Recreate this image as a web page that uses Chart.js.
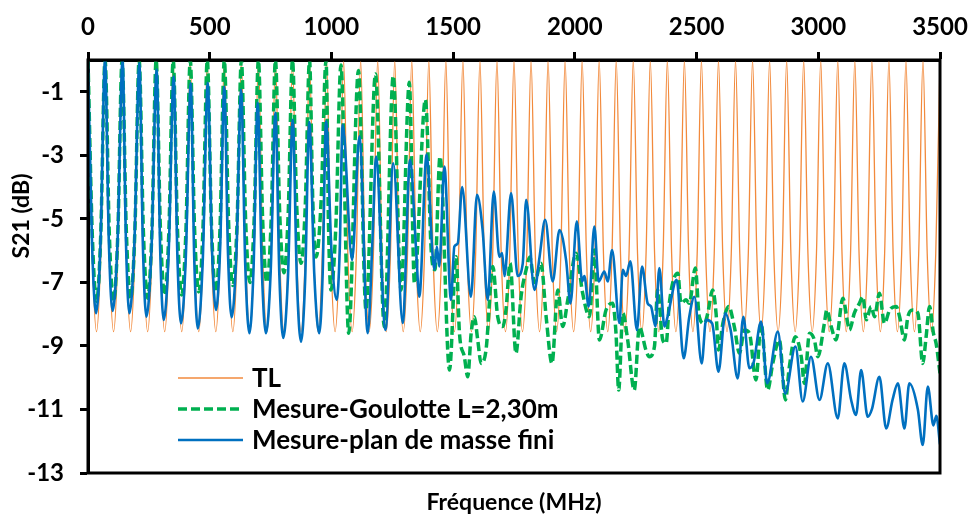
<!DOCTYPE html>
<html lang="fr">
<head>
<meta charset="UTF-8">
<title>S21 - Goulotte / plan de masse</title>
<script src="https://cdn.jsdelivr.net/npm/chart.js"></script>
<style>
    html, body { margin: 0; padding: 0; background: #fff; }
    #wrap { width: 971px; height: 517px; }
</style>
</head>
<body>
<div id="wrap"><canvas id="s21Chart" width="971" height="517"></canvas></div>
<script>
// ---- data (MHz / dB) ----
var tlFreq = [
    0, 17.5, 35, 52.5, 70, 87.5, 105, 122.5,
    140, 157.5, 175, 192.5, 210, 227.5, 245, 262.5,
    280, 297.5, 315, 332.5, 350, 367.5, 385, 402.5,
    420, 437.5, 455, 472.5, 490, 507.5, 525, 542.5,
    560, 577.5, 595, 612.5, 630, 647.5, 665, 682.5,
    700, 717.5, 735, 752.5, 770, 787.5, 805, 822.5,
    840, 857.5, 875, 892.5, 910, 927.5, 945, 962.5,
    980, 997.5, 1015, 1032.5, 1050, 1067.5, 1085, 1102.5,
    1120, 1137.5, 1155, 1172.5, 1190, 1207.5, 1225, 1242.5,
    1260, 1277.5, 1295, 1312.5, 1330, 1347.5, 1365, 1382.5,
    1400, 1417.5, 1435, 1452.5, 1470, 1487.5, 1505, 1522.5,
    1540, 1557.5, 1575, 1592.5, 1610, 1627.5, 1645, 1662.5,
    1680, 1697.5, 1715, 1732.5, 1750, 1767.5, 1785, 1802.5,
    1820, 1837.5, 1855, 1872.5, 1890, 1907.5, 1925, 1942.5,
    1960, 1977.5, 1995, 2012.5, 2030, 2047.5, 2065, 2082.5,
    2100, 2117.5, 2135, 2152.5, 2170, 2187.5, 2205, 2222.5,
    2240, 2257.5, 2275, 2292.5, 2310, 2327.5, 2345, 2362.5,
    2380, 2397.5, 2415, 2432.5, 2450, 2467.5, 2485, 2502.5,
    2520, 2537.5, 2555, 2572.5, 2590, 2607.5, 2625, 2642.5,
    2660, 2677.5, 2695, 2712.5, 2730, 2747.5, 2765, 2782.5,
    2800, 2817.5, 2835, 2852.5, 2870, 2887.5, 2905, 2922.5,
    2940, 2957.5, 2975, 2992.5, 3010, 3027.5, 3045, 3062.5,
    3080, 3097.5, 3115, 3132.5, 3150, 3167.5, 3185, 3202.5,
    3220, 3237.5, 3255, 3272.5, 3290, 3307.5, 3325, 3342.5,
    3360, 3377.5, 3395, 3412.5, 3430, 3447.5, 3465, 3482.5,
    3500
];
var tlDb = [
    0, -6.1, -8.55, -6.1, 0, -6.1, -8.55, -6.1,
    0, -6.1, -8.55, -6.1, 0, -6.1, -8.55, -6.1,
    0, -6.1, -8.55, -6.1, 0, -6.1, -8.55, -6.1,
    0, -6.1, -8.55, -6.1, 0, -6.1, -8.55, -6.1,
    0, -6.1, -8.55, -6.1, 0, -6.1, -8.55, -6.1,
    0, -6.1, -8.55, -6.1, 0, -6.1, -8.55, -6.1,
    0, -6.1, -8.55, -6.1, 0, -6.1, -8.55, -6.1,
    0, -6.1, -8.55, -6.1, 0, -6.1, -8.55, -6.1,
    0, -6.1, -8.55, -6.1, 0, -6.1, -8.55, -6.1,
    0, -6.1, -8.55, -6.1, 0, -6.1, -8.55, -6.1,
    0, -6.1, -8.55, -6.1, 0, -6.1, -8.55, -6.1,
    0, -6.1, -8.55, -6.1, 0, -6.1, -8.55, -6.1,
    0, -6.1, -8.55, -6.1, 0, -6.1, -8.55, -6.1,
    0, -6.1, -8.55, -6.1, 0, -6.1, -8.55, -6.1,
    0, -6.1, -8.55, -6.1, 0, -6.1, -8.55, -6.1,
    0, -6.1, -8.55, -6.1, 0, -6.1, -8.55, -6.1,
    0, -6.1, -8.55, -6.1, 0, -6.1, -8.55, -6.1,
    0, -6.1, -8.55, -6.1, 0, -6.1, -8.55, -6.1,
    0, -6.1, -8.55, -6.1, 0, -6.1, -8.55, -6.1,
    0, -6.1, -8.55, -6.1, 0, -6.1, -8.55, -6.1,
    0, -6.1, -8.55, -6.1, 0, -6.1, -8.55, -6.1,
    0, -6.1, -8.55, -6.1, 0, -6.1, -8.55, -6.1,
    0, -6.1, -8.55, -6.1, 0, -6.1, -8.55, -6.1,
    0, -6.1, -8.55, -6.1, 0, -6.1, -8.55, -6.1,
    0, -6.1, -8.55, -6.1, 0, -6.1, -8.55, -6.1,
    0
];

var goulotteFreq = [
    0, 17.5, 35, 52.5, 70, 87.5, 105, 122.5, 140, 157.5,
    175, 192.5, 210, 227.5, 245, 262.5, 280, 297.5, 315, 332.5,
    350, 367.5, 385, 402.5, 420, 437.5, 455, 472.5, 490, 507.5,
    525, 542.5, 560, 577.5, 595, 612.5, 630, 647.5, 665, 682.5,
    700, 717.5, 735, 752.5, 770, 787.5, 805, 822.5, 840, 857.5,
    875, 892.5, 910, 923.5, 937, 957.5, 978, 988, 998, 1018,
    1039, 1071, 1111, 1142, 1181, 1217, 1254, 1286, 1320, 1341,
    1386, 1410, 1425, 1446, 1485, 1512, 1526, 1546, 1560, 1574,
    1587, 1601, 1615, 1635, 1663, 1683, 1704, 1717, 1734, 1758,
    1779, 1800, 1815, 1834, 1861, 1882, 1906, 1930, 1950, 1971,
    2005, 2032, 2060, 2080, 2101, 2128, 2155, 2169, 2180, 2197,
    2217, 2244, 2265, 2292, 2306, 2327, 2340, 2361, 2375, 2388,
    2423, 2436, 2457, 2470, 2495, 2511, 2532, 2546, 2566, 2580,
    2590, 2608, 2632, 2655, 2676, 2697, 2717, 2744, 2765, 2792,
    2813, 2840, 2865, 2881, 2906, 2930, 2943, 2964, 2984, 2998,
    3025, 3035, 3053, 3073, 3101, 3121, 3128, 3148, 3169, 3183,
    3197, 3217, 3231, 3251, 3272, 3293, 3320, 3334, 3354, 3368,
    3388, 3409, 3429, 3443, 3457, 3473, 3484, 3500
];
var goulotteDb = [
    0, -5.47, -7.6, -5.47, 0, -5.47, -7.6, -5.47, 0, -5.4,
    -7.5, -5.4, 0, -5.4, -7.5, -5.4, 0, -5.33, -7.4, -5.33,
    0, -5.33, -7.4, -5.33, 0, -5.26, -7.3, -5.26, 0, -5.26,
    -7.3, -5.26, 0, -5.11, -7.1, -5.11, 0, -5.04, -7.0, -5.04,
    0, -5.04, -7.0, -5.04, 0, -4.82, -6.7, -4.82, 0, -4.61,
    -6.4, -4.61, 0, -4.46, -6.2, -4.46, 0, -5.21, -7.24, -5.26,
    -0.16, -8.6, -0.33, -7.87, -0.44, -8.4, -0.5, -7.24, -0.7, -7.03,
    -1.25, -6.0, -6.6, -3.04, -9.76, -6.19, -8.6, -9.34, -9.97, -8.6,
    -8.08, -8.81, -9.55, -9.13, -6.5, -8.08, -8.39, -7.87, -6.4, -9.23,
    -7.45, -6.6, -6.2, -7.0, -6.4, -8.08, -9.55, -7.24, -8.39, -7.55,
    -6.08, -7.34, -8.08, -5.98, -8.81, -7.87, -7.66, -8.6, -10.39, -7.97,
    -8.81, -10.39, -8.4, -9.13, -9.34, -9.02, -7.24, -8.81, -8.92, -7.66,
    -6.71, -7.66, -7.55, -7.66, -6.55, -8.08, -8.29, -7.97, -7.24, -7.97,
    -9.13, -8.29, -7.76, -8.39, -9.23, -8.5, -8.6, -10.07, -8.29, -10.39,
    -9.55, -8.81, -10.7, -9.66, -8.71, -9.34, -10.18, -8.6, -8.81, -9.34,
    -8.29, -7.87, -8.39, -8.81, -7.5, -8.29, -8.5, -7.97, -7.66, -7.45,
    -8.18, -7.76, -8.08, -7.34, -8.29, -7.87, -7.76, -8.08, -8.81, -8.08,
    -7.87, -7.97, -9.55, -8.71, -7.76, -8.6, -8.92, -9.86
];

var planFreq = [
    0, 16.5, 33, 51.5, 70, 85.5, 101, 121.5, 142, 156,
    170, 190.5, 211, 225.5, 240, 261, 282, 296.5, 311, 331.5,
    352, 367, 382, 402, 422, 436.5, 451, 471.5, 492, 509,
    526, 543, 560, 575, 590, 609.5, 629, 646, 663, 680,
    697, 714, 731, 750.5, 770, 786, 802, 821.5, 841, 858,
    875, 892, 909, 929.5, 950, 964, 978, 1000, 1022, 1034,
    1046, 1085, 1115, 1149, 1170, 1183, 1222, 1254, 1293, 1323,
    1348, 1361, 1391, 1416, 1423, 1433, 1443, 1464, 1491, 1505,
    1519, 1537, 1573, 1598, 1621, 1642, 1667, 1690, 1701, 1711,
    1738, 1765, 1786, 1800, 1834, 1855, 1878, 1909, 1937, 1964,
    1982, 2008, 2030, 2039, 2057, 2080, 2098, 2121, 2135, 2153,
    2183, 2197, 2210, 2228, 2255, 2276, 2299, 2313, 2331, 2347,
    2368, 2381, 2418, 2447, 2470, 2491, 2521, 2539, 2564, 2590,
    2618, 2640, 2669, 2692, 2717, 2735, 2765, 2790, 2834, 2864,
    2906, 2936, 2970, 3005, 3039, 3080, 3107, 3135, 3155, 3176,
    3203, 3220, 3251, 3279, 3305, 3327, 3354, 3374, 3409, 3429,
    3450, 3473, 3485, 3500
];
var planDb = [
    0, -5.74, -7.97, -5.74, 0, -5.69, -7.9, -5.69, 0, -5.74,
    -7.97, -5.77, -0.1, -5.85, -8.08, -5.9, -0.3, -5.97, -8.18, -6.04,
    -0.52, -6.11, -8.29, -6.17, -0.73, -6.29, -8.45, -6.29, -0.72, -5.87,
    -7.87, -5.9, -0.84, -6.07, -8.1, -6.1, -0.94, -6.46, -8.6, -6.57,
    -1.35, -6.57, -8.6, -6.66, -1.66, -6.76, -8.75, -6.83, -1.88, -6.91,
    -8.87, -6.93, -1.95, -6.74, -8.6, -6.73, -1.93, -5.98, -7.55, -6.01,
    -2.04, -6.3, -2.4, -8.6, -5.4, -3.04, -8.5, -3.25, -8.28, -3.14,
    -6.0, -7.45, -2.98, -6.2, -6.6, -5.87, -6.5, -3.35, -7.55, -5.87,
    -5.77, -4.0, -7.45, -4.24, -5.35, -7.55, -4.14, -6.2, -6.08, -6.8,
    -4.19, -6.8, -6.4, -4.4, -7.24, -6.2, -5.03, -6.97, -5.35, -6.3,
    -7.66, -5.08, -6.97, -6.8, -7.76, -5.24, -6.97, -6.66, -6.97, -5.98,
    -8.28, -6.6, -6.8, -6.34, -8.5, -6.5, -7.66, -7.76, -8.39, -6.55,
    -8.39, -8.08, -6.92, -9.39, -8.08, -7.45, -9.55, -8.18, -8.29, -9.81,
    -7.97, -8.5, -10.02, -8.08, -9.7, -9.5, -8.23, -10.18, -8.55, -10.5,
    -9.02, -10.75, -9.34, -10.7, -9.55, -11.28, -9.55, -10.7, -11.17, -9.76,
    -11.23, -11.0, -9.97, -11.6, -10.7, -10.18, -11.6, -10.18, -11.0, -12.12,
    -10.28, -11.5, -11.2, -12.1
];

var seriesNames = ['TL', 'Mesure-Goulotte L=2,30m', 'Mesure-plan de masse fini'];
var xTicks = [0, 500, 1000, 1500, 2000, 2500, 3000, 3500];
var yTicks = [-1, -3, -5, -7, -9, -11, -13];
var xTitle = 'Fréquence (MHz)';
var yTitle = 'S21 (dB)';

// ---- helpers ----
function toPoints(freq, db) {
    return freq.map(function (f, i) { return { x: f, y: db[i] }; });
}

var labelFont = { family: 'Lato', size: 24, weight: 'bold' };

// black frame round the plot area
var framePlugin = {
    id: 'frame',
    afterDraw: function (chart) {
        var a = chart.chartArea, ctx = chart.ctx;
        ctx.save();
        ctx.strokeStyle = '#000';
        ctx.lineWidth = 3;
        ctx.strokeRect(a.left, a.top, a.right - a.left, a.bottom - a.top);
        ctx.restore();
    }
};

// legend drawn inside the plot, lower left
var insideLegend = {
    id: 'insideLegend',
    afterDatasetsDraw: function (chart) {
        var ctx = chart.ctx;
        ctx.save();
        ctx.font = 'bold 26px Lato';
        ctx.textBaseline = 'middle';
        ctx.textAlign = 'left';
        chart.data.datasets.forEach(function (ds, i) {
            var y = 378 + i * 31;
            ctx.beginPath();
            ctx.strokeStyle = ds.borderColor;
            ctx.lineWidth = ds.borderWidth;
            ctx.setLineDash(ds.borderDash || []);
            ctx.moveTo(178, y);
            ctx.lineTo(243, y);
            ctx.stroke();
            ctx.setLineDash([]);
            ctx.fillStyle = '#000';
            ctx.fillText(ds.label, 252, y + 1);
        });
        ctx.restore();
    }
};

// axis titles
var axisTitles = {
    id: 'axisTitles',
    afterDraw: function (chart) {
        var ctx = chart.ctx, a = chart.chartArea;
        ctx.save();
        ctx.fillStyle = '#000';
        ctx.font = 'bold 23px Lato';
        ctx.textAlign = 'center';
        ctx.textBaseline = 'middle';
        ctx.fillText(xTitle, (a.left + a.right) / 2, 503);
        ctx.translate(22, 216);
        ctx.rotate(-Math.PI / 2);
        ctx.fillText(yTitle, 0, 0);
        ctx.restore();
    }
};

var ctx = document.getElementById('s21Chart').getContext('2d');

var s21Chart = new Chart(ctx, {
    type: 'line',
    data: {
        datasets: [
            {
                label: seriesNames[0],
                data: toPoints(tlFreq, tlDb),
                borderColor: '#F28A3C',
                borderWidth: 1.3,
                order: 2
            },
            {
                label: seriesNames[1],
                data: toPoints(goulotteFreq, goulotteDb),
                borderColor: '#00B050',
                borderWidth: 3.5,
                borderDash: [9, 4],
                order: 1
            },
            {
                label: seriesNames[2],
                data: toPoints(planFreq, planDb),
                borderColor: '#0070C0',
                borderWidth: 2.6,
                order: 0
            }
        ]
    },
    options: {
        responsive: false,
        animation: false,
        events: [],
        layout: { padding: { top: 0, right: 31, bottom: 44, left: 0 } },
        elements: {
            point: { radius: 0 },
            line: { cubicInterpolationMode: 'monotone', fill: false }
        },
        plugins: {
            legend: { display: false },
            tooltip: { enabled: false }
        },
        scales: {
            x: {
                type: 'linear',
                position: 'top',
                min: 0,
                max: 3500,
                afterBuildTicks: function (scale) {
                    scale.ticks = xTicks.map(function (v) { return { value: v }; });
                },
                afterFit: function (scale) {
                    scale.height = 60;
                    scale.paddingLeft = 0;
                    scale.paddingRight = 0;
                },
                ticks: {
                    color: '#000', font: labelFont, padding: 10, maxRotation: 0,
                    callback: function (v) { return String(v); }
                },
                grid: { drawOnChartArea: false, drawTicks: true, tickLength: 8, tickWidth: 3, tickColor: '#000' },
                border: { color: '#000', width: 3 }
            },
            y: {
                type: 'linear',
                min: -13,
                max: 0,
                afterBuildTicks: function (scale) {
                    scale.ticks = yTicks.map(function (v) { return { value: v }; });
                },
                afterFit: function (scale) {
                    scale.width = 88;
                    scale.paddingTop = 0;
                    scale.paddingBottom = 0;
                },
                ticks: {
                    color: '#000', font: labelFont, padding: 16,
                    callback: function (v) { return String(v); }
                },
                grid: { drawOnChartArea: false, drawTicks: true, tickLength: 8, tickWidth: 3, tickColor: '#000' },
                border: { color: '#000', width: 3 }
            }
        }
    },
    plugins: [framePlugin, insideLegend, axisTitles]
});
</script>
</body>
</html>
